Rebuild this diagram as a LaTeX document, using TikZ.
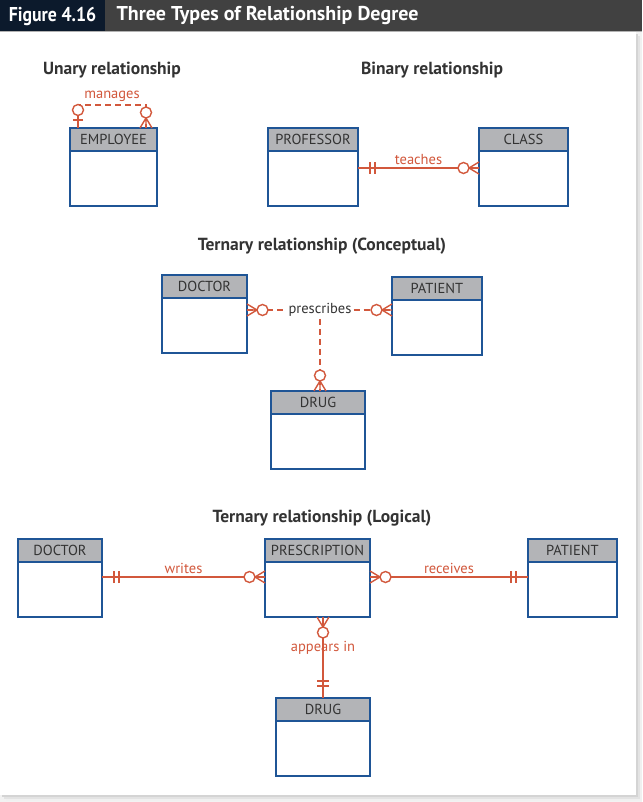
\documentclass[tikz,border=0pt]{standalone}
\usepackage{fontspec}
\setmainfont{PT Sans}
\usetikzlibrary{positioning,calc,decorations.markings}

\definecolor{relred}{HTML}{D2583C}
\definecolor{entblue}{HTML}{1F5596}
\definecolor{headgray}{HTML}{B3B4B7}
\definecolor{txtdark}{HTML}{333333}
\definecolor{navybar}{HTML}{0C1A2C}
\definecolor{greybar}{HTML}{414141}

\tikzset{
  head/.style={draw=entblue, fill=headgray, line width=1.5pt, minimum height=23pt,
    inner sep=0pt, outer sep=0pt, anchor=north west, text=txtdark, font=\fontsize{14.5}{16}\selectfont},
  body/.style={draw=entblue, fill=white, line width=1.5pt, minimum height=55pt,
    inner sep=0pt, outer sep=0pt},
  rel/.style={draw=relred, line width=1.4pt},
  dashrel/.style={rel, dash pattern=on 6pt off 4pt},
  rlabel/.style={text=relred, font=\fontsize{14.5}{16}\selectfont, inner sep=2.5pt},
  plabel/.style={text=txtdark, fill=white, font=\fontsize{14.5}{16}\selectfont, inner sep=2pt},
  sectitle/.style={text=txtdark, font=\bfseries\fontsize{17.5}{19}\selectfont},
  bartitle/.style={text=white, font=\bfseries\fontsize{20}{22}\selectfont},
  manyend/.style={postaction={decorate, decoration={markings, mark=at position 1 with {
    \draw[rel, solid] (-10pt,0) -- (0,6pt) (-10pt,0) -- (0,-6pt) (-10pt,0) -- (0,0);
    \draw[rel, solid, fill=white] (-15.5pt,0) circle (5.5pt);}}}},
  manystart/.style={postaction={decorate, decoration={markings, mark=at position 0 with {
    \draw[rel, solid] (10pt,0) -- (0,6pt) (10pt,0) -- (0,-6pt) (10pt,0) -- (0,0);
    \draw[rel, solid, fill=white] (15.5pt,0) circle (5.5pt);}}}},
  oneend/.style={postaction={decorate, decoration={markings, mark=at position 1 with {
    \draw[rel, solid] (-12pt,-6pt) -- (-12pt,6pt) (-17pt,-6pt) -- (-17pt,6pt);}}}},
  onestart/.style={postaction={decorate, decoration={markings, mark=at position 0 with {
    \draw[rel, solid] (12pt,-6pt) -- (12pt,6pt) (17pt,-6pt) -- (17pt,6pt);}}}},
  zeroonestart/.style={postaction={decorate, decoration={markings, mark=at position 0 with {
    \draw[rel, solid] (0,0) -- (13pt,0) (8pt,-5pt) -- (8pt,5pt);
    \draw[rel, solid, fill=white] (18pt,0) circle (5.5pt);}}}}
}

\newcommand{\entity}[5]{%
  \node[head, minimum width=#4pt] (#1h) at (#2,#3) {#5};
  \node[body, minimum width=#4pt, below=0pt of #1h] (#1b) {};
}

\begin{document}
\begin{tikzpicture}[x=1pt, y=-1pt]
  \useasboundingbox (0,0) rectangle (642,802);
  % page and title bar
  \fill[gray!10] (0,0) rectangle (642,802);
  \foreach \s/\c in {6/6,4/11,2/17} {
    \fill[black!\c] (\s,32+\s) rectangle (636+\s,795+\s);
  }
  \fill[white] (0,32) rectangle (636,795);
  \fill[navybar] (0,0) rectangle (105,32);
  \fill[greybar] (105,0) rectangle (642,32);
  \draw[gray!60, line width=1pt] (0,31.5) -- (642,31.5);
  \node[bartitle, xscale=0.89, transform shape] (fig) at (52.5,16) {Figure 4.16};
  \node[bartitle, anchor=west] (ttl) at (113,16) {Three Types of Relationship Degree};

  \node[sectitle] (tun) at (112,70) {Unary relationship};
  \node[sectitle] (tbin) at (432,70) {Binary relationship};
  \node[sectitle] (tcon) at (322,246) {Ternary relationship (Conceptual)};
  \node[sectitle] (tlog) at (322,518) {Ternary relationship (Logical)};

  \entity{emp}{70}{128}{87}{EMPLOYEE}
  \entity{prof}{268}{128}{90}{PROFESSOR}
  \entity{cls}{479}{128}{89}{CLASS}
  \entity{cdoc}{162}{275}{85}{DOCTOR}
  \entity{cpat}{392}{277}{90}{PATIENT}
  \entity{cdrug}{271}{391}{94}{DRUG}
  \entity{ldoc}{18}{539}{84}{DOCTOR}
  \entity{lpres}{265}{539}{105}{PRESCRIPTION}
  \entity{lpat}{528}{539}{89}{PATIENT}
  \entity{ldrug}{276}{698}{94}{DRUG}

  \draw[dashrel, zeroonestart, manyend] ([xshift=8pt]emph.north west) -- ++(0,-23)
    -| node[rlabel, above, pos=0.25] {manages} ([xshift=-11pt]emph.north east);
  \draw[rel, onestart, manyend] ([yshift=-17pt]profb.north east) --
    node[rlabel, above] {teaches} ([yshift=-17pt]clsb.north west);

  \node[plabel] (presc) at (320,310) {prescribes};
  \draw[dashrel, manystart] ([yshift=-12pt]cdocb.north east) -- (presc.west);
  \draw[dashrel, manyend] (presc.east) -- ([yshift=-10pt]cpatb.north west);
  \draw[dashrel, manyend] (presc.south) -- (presc.south |- cdrugh.north);

  \draw[rel, onestart, manyend] ([yshift=-15pt]ldocb.north east) --
    node[rlabel, above] {writes} ([yshift=-15pt]lpresb.north west);
  \draw[rel, manystart, oneend] ([yshift=-15pt]lpresb.north east) --
    node[rlabel, above] {receives} ([yshift=-15pt]lpatb.north west);
  \draw[rel, manystart, oneend] (lpresb.south -| ldrugh.north) --
    node[rlabel, pos=0.38] {appears in} (ldrugh.north);
\end{tikzpicture}
\end{document}
